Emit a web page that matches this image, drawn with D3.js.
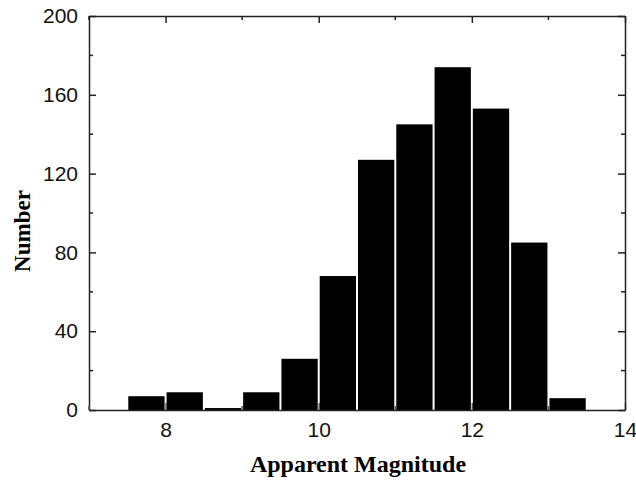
<!DOCTYPE html>
<html>
<head>
<meta charset="utf-8">
<script src="https://cdn.jsdelivr.net/npm/d3@7"></script>
<style>
  body { margin: 0; background: #fff; }
  .axtitle { font-family: "Liberation Serif", "Times New Roman", serif; font-weight: bold; font-size: 23px; }
</style>
</head>
<body>
<div id="chart"></div>
<script>
// histogram bins (left edge) and counts
let binStart = [7.5, 8.0, 8.5, 9.0, 9.5, 10.0, 10.5, 11.0, 11.5, 12.0, 12.5, 13.0];
let counts = [7, 9, 1, 9, 26, 68, 127, 145, 174, 153, 85, 6];
let binWidth = 0.5;
let xTicks = [8, 10, 12, 14];
let yTicks = [0, 40, 80, 120, 160, 200];

let width = 636, height = 481;
let margin = {top: 16, right: 11, bottom: 71, left: 89};
let w = width - margin.left - margin.right;
let h = height - margin.top - margin.bottom;

let svg = d3.select("#chart")
    .append("svg")
    .attr("width", width)
    .attr("height", height)
    .append("g")
    .attr("transform", `translate(${margin.left}, ${margin.top})`);

let x = d3.scaleLinear().domain([7, 14]).range([0, w]);
let y = d3.scaleLinear().domain([0, 200]).range([h, 0]);

let data = binStart.map((b, i) => ({x0: b, x1: b + binWidth, n: counts[i]}));

// bars
svg.selectAll("rect.bar")
    .data(data)
    .enter()
    .append("rect")
    .attr("class", "bar")
    .attr("x", d => x(d.x0) + 1)
    .attr("width", d => x(d.x1) - x(d.x0) - 2)
    .attr("y", d => y(d.n))
    .attr("height", d => h - y(d.n))
    .attr("fill", "#000");

let xMinor = d3.range(7, 14.01, 1);
let yMinor = d3.range(0, 200.01, 20);

function drawAxis(axis, transform, showLabels) {
  let g = svg.append("g").attr("transform", transform).call(axis);
  g.attr("font-size", 21).attr("font-family", "'Liberation Sans', Arial, sans-serif");
  g.select(".domain").attr("stroke", "#222").attr("stroke-width", 1.5);
  g.selectAll(".tick line").attr("stroke", "#222").attr("stroke-width", 1.5);
  g.selectAll(".tick text").attr("fill", "#111");
  if (!showLabels) g.selectAll(".tick text").remove();
  return g;
}

// bottom
let gb = drawAxis(d3.axisBottom(x).tickValues(xTicks).tickSizeInner(-7).tickSizeOuter(0).tickPadding(12).tickFormat(d3.format("d")),
    `translate(0, ${h})`, true);
gb.selectAll(".tick line").attr("stroke", "#555");
// top
drawAxis(d3.axisTop(x).tickValues(xTicks).tickSizeInner(-7).tickSizeOuter(0), `translate(0, 0)`, false);
// left
drawAxis(d3.axisLeft(y).tickValues(yTicks).tickSizeInner(-7).tickSizeOuter(0).tickPadding(11).tickFormat(d3.format("d")),
    `translate(0, 0)`, true);
// right
drawAxis(d3.axisRight(y).tickValues(yTicks).tickSizeInner(-7).tickSizeOuter(0), `translate(${w}, 0)`, false);

// minor ticks
let minorG = svg.append("g").attr("stroke", "#222").attr("stroke-width", 1.5);
xMinor.filter(v => xTicks.indexOf(v) < 0).forEach(v => {
  minorG.append("line").attr("x1", x(v)).attr("x2", x(v)).attr("y1", h).attr("y2", h - 4).attr("stroke", "#555");
  minorG.append("line").attr("x1", x(v)).attr("x2", x(v)).attr("y1", 0).attr("y2", 4);
});
yMinor.filter(v => yTicks.indexOf(v) < 0).forEach(v => {
  minorG.append("line").attr("x1", 0).attr("x2", 4).attr("y1", y(v)).attr("y2", y(v));
  minorG.append("line").attr("x1", w).attr("x2", w - 4).attr("y1", y(v)).attr("y2", y(v));
});

// axis titles
svg.append("text")
    .attr("class", "axtitle")
    .attr("transform", `translate(${w / 2 + 1}, ${h + 62})`)
    .style("text-anchor", "middle")
    .style("font-size", "24px")
    .text("Apparent Magnitude");

svg.append("text")
    .attr("class", "axtitle")
    .attr("transform", `translate(-59, ${h / 2 + 18}) rotate(-90)`)
    .style("text-anchor", "middle")
    .text("Number");
</script>
</body>
</html>
